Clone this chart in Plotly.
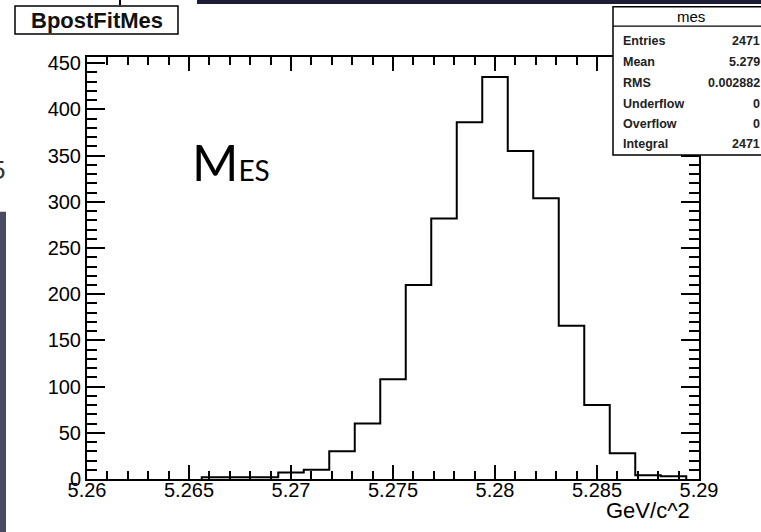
import plotly.graph_objects as go

# ---------------- data ----------------
bin_centers = [5.26625, 5.2675, 5.26875, 5.27, 5.27125, 5.2725, 5.27375, 5.275,
               5.27625, 5.2775, 5.27875, 5.28, 5.28125, 5.2825, 5.28375, 5.285,
               5.28625, 5.2875, 5.28875]
counts = [2, 2, 2, 7, 10, 30, 60, 108, 210, 282, 386, 435, 355, 304, 166, 80, 28, 4, 3]
bin_width = 0.00125

x_tickvals = [5.26, 5.265, 5.27, 5.275, 5.28, 5.285, 5.29]
x_ticktext = ["5.26", "5.265", "5.27", "5.275", "5.28", "5.285", "5.29"]
y_tickvals = [0, 50, 100, 150, 200, 250, 300, 350, 400, 450]

stat_names = ["Entries", "Mean", "RMS", "Underflow", "Overflow", "Integral"]
stat_values = ["2471", "5.279", "0.002882", "0", "0", "2471"]

hist_title = "BpostFitMes"
stats_title = "mes"
x_title = "GeV/c^2"

# ---------------- step outline from bins ----------------
edges = [c - bin_width / 2 for c in bin_centers] + [bin_centers[-1] + bin_width / 2]
sx = [edges[0]] + edges + [edges[-1]]
sy = [0] + counts + [counts[-1], 0]

W, H = 761, 532
L, R, T, B = 87, 699, 57, 479.5


def px(x):
    return (x - L) / (R - L)


def py(y):
    return (B - y) / (B - T)


fig = go.Figure()
fig.add_trace(go.Scatter(x=sx, y=sy, mode="lines", line=dict(shape="hv", color="black", width=2),
                         hoverinfo="skip", showlegend=False))

tickfont = dict(family="Liberation Sans, Arial, sans-serif", size=20, color="black")
fig.update_xaxes(range=[5.26, 5.29], tickvals=x_tickvals, ticktext=x_ticktext,
                 ticks="inside", ticklen=14, tickwidth=1.8, tickcolor="black",
                 minor=dict(dtick=0.001, tick0=5.26, ticks="inside", ticklen=8, tickwidth=1.8, tickcolor="black"),
                 showline=True, linecolor="black", linewidth=2, mirror="ticks",
                 showgrid=False, zeroline=False, tickfont=tickfont, ticklabelstandoff=-8)
fig.update_yaxes(range=[0, 456.75], tickvals=y_tickvals,
                 ticks="inside", ticklen=18, tickwidth=1.8, tickcolor="black",
                 minor=dict(dtick=10, tick0=0, ticks="inside", ticklen=10, tickwidth=1.8, tickcolor="black"),
                 showline=True, linecolor="black", linewidth=2, mirror="ticks",
                 showgrid=False, zeroline=False, tickfont=tickfont, ticklabelstandoff=0)

shapes = []
# top dark bar
shapes.append(dict(type="rect", xref="paper", yref="paper", x0=px(197), x1=px(770), y0=py(-5), y1=py(4),
                   fillcolor="#1d1d38", line=dict(width=0), layer="above"))
# small mark at top left
shapes.append(dict(type="line", xref="paper", yref="paper", x0=px(120), x1=px(120), y0=py(0), y1=py(5),
                   line=dict(color="black", width=2), layer="above"))
# left dark bar
shapes.append(dict(type="rect", xref="paper", yref="paper", x0=px(-5), x1=px(6), y0=py(212), y1=py(540),
                   fillcolor="#4a4a63", line=dict(width=0), layer="above"))
# histogram title box
shapes.append(dict(type="rect", xref="paper", yref="paper", x0=px(15), x1=px(178), y0=py(6), y1=py(34),
                   fillcolor="white", line=dict(color="black", width=1.5), layer="above"))
# stats box
shapes.append(dict(type="rect", xref="paper", yref="paper", x0=px(613), x1=px(780), y0=py(6.7), y1=py(155),
                   fillcolor="white", line=dict(color="black", width=1.5), layer="above"))
shapes.append(dict(type="line", xref="paper", yref="paper", x0=px(613), x1=px(780), y0=py(26), y1=py(26),
                   line=dict(color="black", width=1.2), layer="above"))

annotations = []
annotations.append(dict(xref="paper", yref="paper", x=px(96.5), y=py(20.5), text="<b>" + hist_title + "</b>",
                        showarrow=False, xanchor="center", yanchor="middle",
                        font=dict(family="Liberation Sans, Arial", size=22, color="#111")))
annotations.append(dict(xref="paper", yref="paper", x=px(691), y=py(16), text=stats_title, showarrow=False,
                        xanchor="center", yanchor="middle",
                        font=dict(family="Liberation Sans, Arial", size=15, color="black")))
row_y = [41, 62, 83, 104, 124, 144]
for name, val, yy in zip(stat_names, stat_values, row_y):
    annotations.append(dict(xref="paper", yref="paper", x=px(621), y=py(yy), text="<b>" + name + "</b>",
                            showarrow=False, xanchor="left", yanchor="middle",
                            font=dict(family="Liberation Sans, Arial", size=12.5, color="#222")))
    annotations.append(dict(xref="paper", yref="paper", x=px(762), y=py(yy), text="<b>" + val + "</b>",
                            showarrow=False, xanchor="right", yanchor="middle",
                            font=dict(family="Liberation Sans, Arial", size=12.5, color="#222")))
# M_ES label
annotations.append(dict(xref="paper", yref="paper", x=px(190), y=py(194), showarrow=False,
                        text="M<span style='font-size:28px'>ES</span>",
                        xanchor="left", yanchor="bottom",
                        font=dict(family="Lato, sans-serif", size=50, color="black")))
# axis title
annotations.append(dict(xref="paper", yref="paper", x=px(692), y=py(511), text=x_title, showarrow=False,
                        xanchor="right", yanchor="middle",
                        font=dict(family="Liberation Sans, Arial", size=22, color="black")))
# cut-off glyph at left edge
annotations.append(dict(xref="paper", yref="paper", x=px(7), y=py(170), text="5", showarrow=False,
                        xanchor="right", yanchor="middle",
                        font=dict(family="Liberation Sans, Arial", size=26, color="#333")))

fig.update_layout(width=W, height=H, autosize=False,
                  margin=dict(l=L, r=W - R, t=T, b=H - B, pad=0),
                  plot_bgcolor="white", paper_bgcolor="white",
                  shapes=shapes, annotations=annotations, showlegend=False)

fig.write_html("out.html", config={"displayModeBar": False},
               post_script="document.body.style.margin='0';document.body.style.overflow='hidden';")
